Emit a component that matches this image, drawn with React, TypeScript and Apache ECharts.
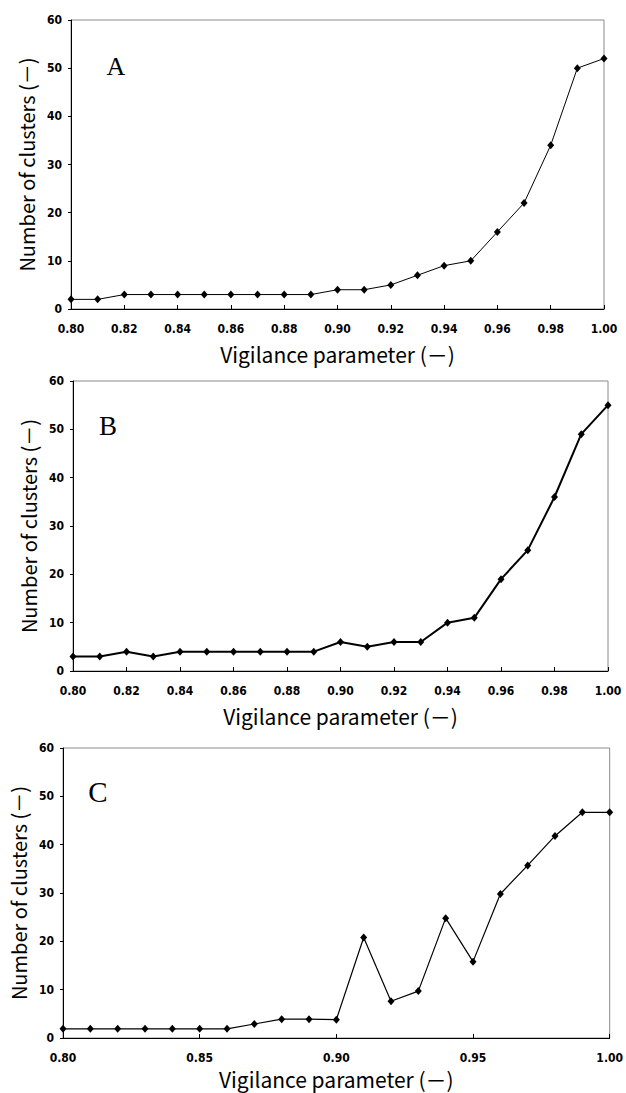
import React, { useEffect, useRef } from "react";
import * as echarts from "echarts";

const vigilance = [0.8, 0.81, 0.82, 0.83, 0.84, 0.85, 0.86, 0.87, 0.88, 0.89, 0.9, 0.91, 0.92, 0.93, 0.94, 0.95, 0.96, 0.97, 0.98, 0.99, 1.0];
const clustersA = [2, 2, 3, 3, 3, 3, 3, 3, 3, 3, 4, 4, 5, 7, 9, 10, 16, 22, 34, 50, 52];
const clustersB = [3, 3, 4, 3, 4, 4, 4, 4, 4, 4, 6, 5, 6, 6, 10, 11, 19, 25, 36, 49, 55];
const clustersC = [1.9, 1.9, 1.9, 1.9, 1.9, 1.9, 1.9, 2.9, 3.9, 3.9, 3.8, 20.8, 7.6, 9.7, 24.8, 15.8, 29.8, 35.7, 41.8, 46.7, 46.7];
const panelLetters = ["A", "B", "C"];
const xTitle = "Vigilance parameter (－)";
const yTitle = "Number of clusters (－)";

const grids = [
  { left: 71, top: 20, width: 533, height: 289 },
  { left: 73, top: 381, width: 535, height: 290 },
  { left: 63, top: 748, width: 551, height: 290 },
];
const xIntervals = [0.02, 0.02, 0.05];
const lineWidths = [1, 2, 1.2];
const letterPos = [
  { x: 116, y: 66, size: 26 },
  { x: 108, y: 426, size: 27 },
  { x: 98, y: 792, size: 29 },
];
const xNameGaps = [34, 34, 30];
const yNameGaps = [30, 31, 32];

const tickFont = "'Liberation Sans Narrow', 'DejaVu Sans Condensed', 'Liberation Sans', sans-serif";
const titleFont = "'Noto Sans CJK JP', 'Liberation Sans', sans-serif";

export default function App() {
  const ref = useRef<HTMLDivElement>(null);
  useEffect(() => {
    if (!ref.current) return;
    const chart = echarts.init(ref.current, undefined, { renderer: "svg" });
    const seriesData = [clustersA, clustersB, clustersC];
    const option: any = {
      animation: false,
      backgroundColor: "#ffffff",
      grid: grids.map((g) => ({
        ...g,
        show: true,
        borderColor: "#8a8a8a",
        borderWidth: 1,
        backgroundColor: "transparent",
      })),
      xAxis: grids.map((_, i) => ({
        type: "value",
        gridIndex: i,
        min: 0.8,
        max: 1.0,
        interval: xIntervals[i],
        name: xTitle,
        nameLocation: "middle",
        nameGap: xNameGaps[i],
        nameTextStyle: { fontFamily: titleFont, fontSize: 21, color: "#000" },
        axisLine: { show: true, lineStyle: { color: "#000", width: 1 } },
        axisTick: { show: true, inside: true, length: 4, lineStyle: { color: "#000" } },
        axisLabel: {
          margin: 14,
          fontFamily: tickFont,
          fontWeight: "bold",
          fontSize: 12,
          color: "#000",
          formatter: (v: number) => v.toFixed(2),
        },
        splitLine: { show: false },
      })),
      yAxis: grids.map((_, i) => ({
        type: "value",
        gridIndex: i,
        min: 0,
        max: 60,
        interval: 10,
        name: yTitle,
        nameLocation: "middle",
        nameGap: yNameGaps[i],
        nameTextStyle: { fontFamily: titleFont, fontSize: 20, color: "#000" },
        axisLine: { show: true, lineStyle: { color: "#000", width: 1 } },
        axisTick: { show: true, inside: false, length: 3, lineStyle: { color: "#000" } },
        axisLabel: {
          margin: 9,
          fontFamily: tickFont,
          fontWeight: "bold",
          fontSize: 12,
          color: "#000",
        },
        splitLine: { show: false },
      })),
      series: seriesData.map((vals, i) => ({
        type: "line",
        xAxisIndex: i,
        yAxisIndex: i,
        data: vigilance.map((x, k) => [x, vals[k]]),
        symbol: "diamond",
        symbolSize: [7, 8],
        showSymbol: true,
        lineStyle: { color: "#000", width: lineWidths[i] },
        itemStyle: { color: "#000" },
        clip: false,
      })),
      graphic: panelLetters.map((t, i) => ({
        type: "text",
        x: letterPos[i].x,
        y: letterPos[i].y,
        style: {
          text: t,
          fontFamily: "'Liberation Serif', 'Times New Roman', serif",
          fontSize: letterPos[i].size,
          fill: "#000",
          align: "center",
          verticalAlign: "middle",
        },
      })),
    };
    chart.setOption(option);
    return () => chart.dispose();
  }, []);
  return (
    <div
      ref={ref}
      style={{ position: "absolute", left: 0, top: 0, width: 626, height: 1093, background: "#fff" }}
    />
  );
}
